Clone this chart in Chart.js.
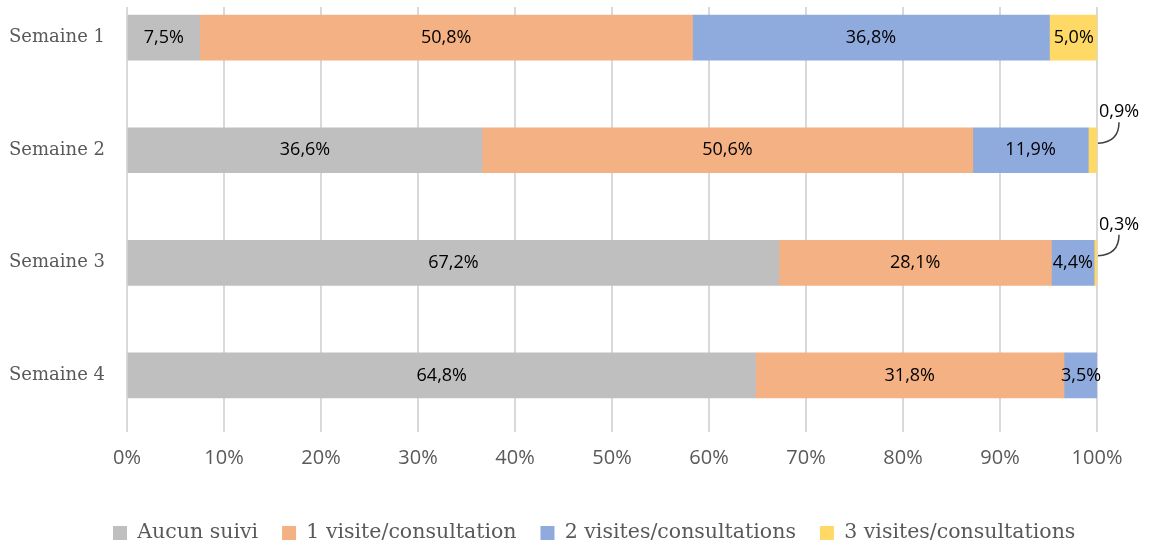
<!DOCTYPE html>
<html>
<head>
<meta charset="utf-8">
<script src="https://cdn.jsdelivr.net/npm/chart.js@4.4.1/dist/chart.umd.min.js"></script>
<style>
html,body{margin:0;padding:0;background:#fff;}
#wrap{width:1152px;height:550px;position:relative;}
</style>
</head>
<body>
<div id="wrap"><canvas id="c"></canvas></div>
<script>
const categories = ['Semaine 1', 'Semaine 2', 'Semaine 3', 'Semaine 4'];
const seriesNames = ['Aucun suivi', '1 visite/consultation', '2 visites/consultations', '3 visites/consultations'];
const aucunSuivi = [7.5, 36.6, 67.2, 64.8];
const uneVisite = [50.8, 50.6, 28.1, 31.8];
const deuxVisites = [36.8, 11.9, 4.4, 3.5];
const troisVisites = [5.0, 0.9, 0.3, 0];
const xTicks = [0, 10, 20, 30, 40, 50, 60, 70, 80, 90, 100];
const colors = ['#BFBFBF', '#F4B183', '#8FAADC', '#FFD966'];

const allSeries = [aucunSuivi, uneVisite, deuxVisites, troisVisites];
const datasets = allSeries.map((vals, s) => ({
  label: seriesNames[s],
  data: vals.map((v, i) => ({x: v, y: i})),
  backgroundColor: colors[s],
  borderWidth: 0,
  barThickness: 45
}));

const fmt = v => v.toFixed(1).replace('.', ',') + '%';

const LEG_PAD = 24, LEG_FONT = 20.5;
const Y_MIN = -0.272, Y_MAX = 3.498;

const legendPlacer = {
  id: 'legendPlacer',
  afterLayout(chart) {
    const lg = chart.legend;
    if (!lg || !lg.lineWidths) return;
    const x0 = (lg.left + LEG_PAD + lg.right - lg.lineWidths[0]) / 2;
    const dx = 113 - x0;
    lg.left += dx; lg.right += dx;
    const cy = lg.top + LEG_PAD + LEG_FONT / 2;
    const dy = 533 - cy;
    lg.top += dy; lg.bottom += dy;
  }
};

const labelPlugin = {
  id: 'barLabels',
  afterDatasetsDraw(chart) {
    const ctx = chart.ctx;
    ctx.save();
    ctx.font = '18px "Open Sans"';
    ctx.fillStyle = '#000';
    ctx.textAlign = 'center';
    ctx.textBaseline = 'middle';
    chart.data.datasets.forEach((ds, di) => {
      const meta = chart.getDatasetMeta(di);
      meta.data.forEach((el, i) => {
        const v = allSeries[di][i];
        if (!v) return;
        if (v < 2) {
          const xe = el.x, yc = el.y;
          ctx.strokeStyle = '#404040';
          ctx.lineWidth = 1.5;
          ctx.beginPath();
          ctx.moveTo(xe + 1, yc - 7);
          ctx.quadraticCurveTo(xe + 22, yc - 8, xe + 22, yc - 28);
          ctx.stroke();
          ctx.fillText(fmt(v), xe + 22, yc - 38);
        } else {
          const cx = (el.x + el.base) / 2;
          ctx.fillText(fmt(v), cx, el.y);
        }
      });
    });
    ctx.restore();
  }
};

new Chart(document.getElementById('c'), {
  type: 'bar',
  data: { datasets },
  plugins: [labelPlugin, legendPlacer],
  options: {
    indexAxis: 'y',
    responsive: true,
    maintainAspectRatio: false,
    animation: false,
    layout: { padding: { top: 7, right: 55, left: 0, bottom: 0 } },
    plugins: {
      tooltip: { enabled: false },
      legend: {
        position: 'bottom',
        labels: {
          boxWidth: 14,
          boxHeight: 14,
          padding: LEG_PAD,
          color: '#595959',
          font: { family: '"DejaVu Serif"', size: LEG_FONT }
        }
      }
    },
    scales: {
      x: {
        type: 'linear',
        stacked: true,
        bounds: 'data',
        min: 0,
        max: 100,
        afterBuildTicks: s => { s.ticks = xTicks.map(v => ({value: v})); },
        afterFit: s => { s.height = 64; s.paddingLeft = 0; s.paddingRight = 0; },
        grid: { color: '#D9D9D9', lineWidth: 2, drawTicks: false },
        border: { display: false },
        ticks: {
          padding: 15,
          color: '#595959',
          font: { family: '"Open Sans"', size: 20 },
          callback: v => v + '%'
        }
      },
      y: {
        type: 'linear',
        stacked: true,
        reverse: true,
        bounds: 'data',
        offset: false,
        min: Y_MIN,
        max: Y_MAX,
        afterDataLimits: s => { s.min = Y_MIN; s.max = Y_MAX; },
        afterBuildTicks: s => { s.ticks = categories.map((c, i) => ({value: i})); },
        afterFit: s => { s.width = 127; s.paddingTop = 0; s.paddingBottom = 0; },
        grid: { display: false, drawTicks: false },
        border: { display: false },
        ticks: {
          padding: 22,
          color: '#595959',
          font: { family: '"DejaVu Serif"', size: 18 },
          callback: v => categories[v] ?? ''
        }
      }
    }
  }
});
</script>
</body>
</html>
